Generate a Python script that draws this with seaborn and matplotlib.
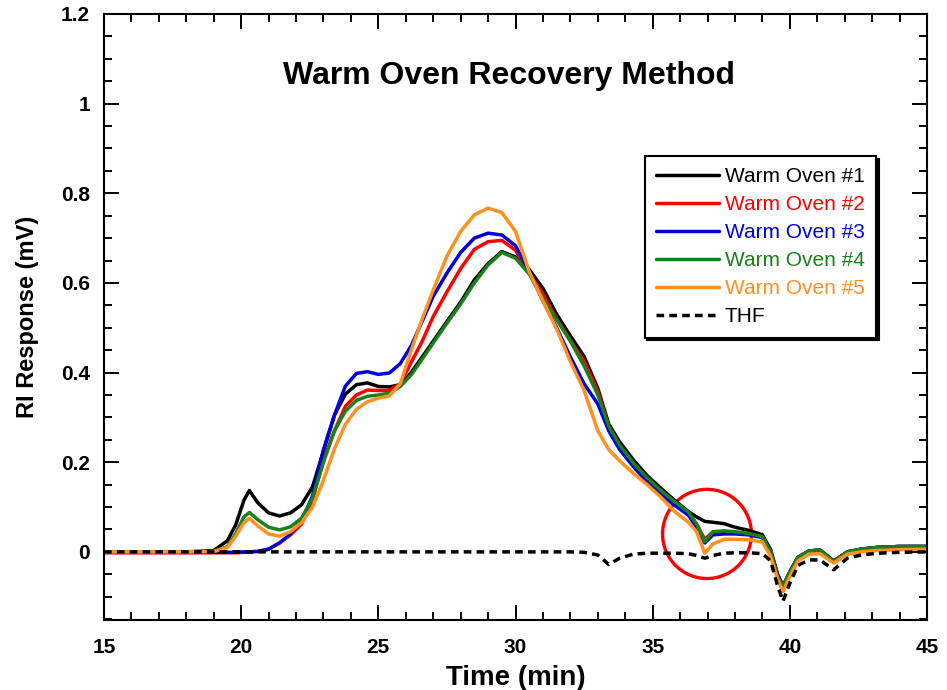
import numpy as np
import pandas as pd
import seaborn as sns
import matplotlib.pyplot as plt
from matplotlib.patches import Ellipse
from matplotlib.ticker import MultipleLocator, FormatStrFormatter

# retention time grid (min)
time_min = [15, 18, 19, 19.5, 19.8, 20.1, 20.3, 20.6, 21.0, 21.4, 21.8, 22.2, 22.6,
            23.0, 23.4, 23.8, 24.2, 24.6, 25.0, 25.4, 25.8, 26.2, 26.6, 27.0, 27.5,
            28.0, 28.5, 29.0, 29.5, 30.0, 30.5, 31.0, 31.5, 32.0, 32.5, 33.0, 33.4,
            33.8, 34.3, 34.8, 35.3, 35.8, 36.3, 36.6, 36.9, 37.2, 37.6, 38.0, 38.5,
            39.0, 39.3, 39.55, 39.75, 40.0, 40.3, 40.7, 41.1, 41.6, 42.1, 42.6, 43.2,
            44.0, 45.0]

oven1 = [0, 0, 0.003, 0.025, 0.06, 0.115, 0.137, 0.11, 0.087, 0.08, 0.087, 0.105, 0.145,
         0.225, 0.305, 0.352, 0.373, 0.377, 0.369, 0.368, 0.373, 0.40, 0.435, 0.47, 0.514,
         0.557, 0.607, 0.643, 0.67, 0.658, 0.63, 0.588, 0.53, 0.482, 0.436, 0.365, 0.285,
         0.245, 0.205, 0.17, 0.142, 0.115, 0.09, 0.078, 0.068, 0.066, 0.063, 0.055, 0.048,
         0.038, 0.005, -0.05, -0.077, -0.045, -0.012, 0.002, 0.004, -0.02, 0.0, 0.006, 0.01,
         0.012, 0.012]

oven2 = [-0.002, -0.002, -0.002, -0.002, -0.002, -0.001, 0, 0.001, 0.006, 0.02, 0.038, 0.062, 0.116,
         0.205, 0.27, 0.325, 0.35, 0.361, 0.36, 0.36, 0.375, 0.423, 0.47, 0.525, 0.58,
         0.632, 0.675, 0.692, 0.695, 0.673, 0.622, 0.575, 0.52, 0.472, 0.425, 0.358, 0.28,
         0.236, 0.197, 0.163, 0.135, 0.11, 0.088, 0.062, 0.028, 0.045, 0.045, 0.043, 0.04,
         0.033, 0.0, -0.05, -0.077, -0.045, -0.012, 0.002, 0.004, -0.022, 0.0, 0.006, 0.01,
         0.012, 0.012]

oven3 = [-0.001, -0.001, -0.001, -0.001, -0.001, 0, 0, 0.001, 0.006, 0.02, 0.04, 0.068, 0.125,
         0.228, 0.305, 0.37, 0.398, 0.402, 0.396, 0.399, 0.42, 0.46, 0.515, 0.57, 0.622,
         0.668, 0.70, 0.711, 0.707, 0.683, 0.625, 0.56, 0.50, 0.435, 0.375, 0.33, 0.27,
         0.228, 0.19, 0.156, 0.128, 0.104, 0.082, 0.055, 0.02, 0.038, 0.04, 0.04, 0.038,
         0.032, 0.0, -0.05, -0.077, -0.045, -0.012, 0.002, 0.004, -0.022, 0.0, 0.006, 0.01,
         0.012, 0.012]

oven4 = [0, 0, 0, 0.012, 0.04, 0.078, 0.088, 0.072, 0.055, 0.049, 0.056, 0.075, 0.12,
         0.20, 0.27, 0.314, 0.338, 0.347, 0.35, 0.354, 0.369, 0.395, 0.43, 0.466, 0.51,
         0.553, 0.60, 0.64, 0.668, 0.655, 0.62, 0.565, 0.518, 0.47, 0.415, 0.35, 0.28,
         0.238, 0.198, 0.165, 0.137, 0.112, 0.089, 0.062, 0.023, 0.045, 0.047, 0.045, 0.041,
         0.034, 0.0, -0.055, -0.077, -0.045, -0.012, 0.002, 0.004, -0.022, 0.0, 0.006, 0.01,
         0.012, 0.012]

oven5 = [0, 0, 0.001, 0.01, 0.035, 0.065, 0.075, 0.058, 0.04, 0.035, 0.045, 0.065, 0.10,
         0.16, 0.23, 0.285, 0.318, 0.335, 0.343, 0.348, 0.375, 0.45, 0.52, 0.584, 0.66,
         0.715, 0.752, 0.767, 0.757, 0.715, 0.625, 0.56, 0.497, 0.425, 0.36, 0.27, 0.228,
         0.203, 0.175, 0.15, 0.122, 0.09, 0.066, 0.045, -0.003, 0.018, 0.028, 0.028, 0.027,
         0.022, -0.01, -0.06, -0.089, -0.055, -0.02, -0.005, -0.004, -0.025, -0.005, 0.0, 0.003,
         0.005, 0.006]

thf = [0, 0, 0, 0, 0, 0, 0, 0, 0, 0, 0, 0, 0,
       0, 0, 0, 0, 0, 0, 0, 0, 0, 0, 0, 0,
       0, 0, 0, 0, 0, 0, 0, 0, 0, -0.001, -0.007, -0.028,
       -0.014, -0.005, -0.003, -0.003, -0.003, -0.004, -0.008, -0.014, -0.008, -0.003, -0.002, -0.002,
       -0.004, -0.02, -0.075, -0.11, -0.07, -0.03, -0.018, -0.018, -0.04, -0.014, -0.007, -0.003,
       -0.001, 0.0]

labels = ["Warm Oven #1", "Warm Oven #2", "Warm Oven #3", "Warm Oven #4", "Warm Oven #5", "THF"]
colors = ["#000000", "#FF0000", "#0000D8", "#1A801A", "#FF9022", "#000000"]
series = [oven1, oven2, oven3, oven4, oven5, thf]

sns.set_style("ticks")
plt.rcParams['font.family'] = ['Liberation Sans', 'DejaVu Sans']
plt.rcParams['text.color'] = 'black'
plt.rcParams['axes.labelcolor'] = 'black'
plt.rcParams['xtick.color'] = 'black'
plt.rcParams['ytick.color'] = 'black'

fig = plt.figure(figsize=(9.47, 6.9), dpi=100)
ax = fig.add_axes([104 / 947, 1 - 620 / 690, 823 / 947, 606 / 690])

for vals, lab, col in zip(series, labels, colors):
    df = pd.DataFrame({"time": time_min, "resp": vals})
    sns.lineplot(data=df, x="time", y="resp", color=col, lw=2.5, label=lab, ax=ax)
ax.lines[-1].set_dashes([2.2, 1.5])

ax.add_patch(Ellipse((36.98, 0.04), 3.24, 0.199, fill=False, edgecolor="#FF0000", lw=2.4))

ax.set_xlim(15, 45)
ax.set_ylim(-0.152, 1.2)
ax.xaxis.set_major_locator(MultipleLocator(5))
ax.xaxis.set_minor_locator(MultipleLocator(1))
ax.yaxis.set_major_locator(MultipleLocator(0.2))
ax.yaxis.set_minor_locator(MultipleLocator(0.05))
ax.yaxis.set_major_formatter(FormatStrFormatter('%g'))
ax.tick_params(which='both', direction='in', top=True, right=True, width=1.4, colors='black')
ax.tick_params(which='major', length=10.5, labelsize=15)
ax.tick_params(axis='x', which='major', pad=13)
ax.tick_params(axis='y', which='major', pad=10)
ax.tick_params(which='minor', length=5.5)
for lbl in ax.get_xticklabels() + ax.get_yticklabels():
    lbl.set_fontweight('bold')
for sp in ax.spines.values():
    sp.set_linewidth(1.5)
    sp.set_color('black')

ax.set_xlabel("Time (min)", fontsize=20, fontweight='bold', labelpad=6)
ax.set_ylabel("RI Response (mV)", fontsize=17, fontweight='bold', labelpad=16)
ax.text(29.76, 1.062, "Warm Oven Recovery Method", ha='center', va='center',
        fontsize=23, fontweight='bold')

leg = ax.legend(loc='upper left', bbox_to_anchor=(0.657, 0.766), fontsize=15,
                frameon=True, fancybox=False, framealpha=1, edgecolor='black',
                shadow={'facecolor': 'black', 'edgecolor': 'black', 'alpha': 1},
                labelcolor='linecolor', handlelength=3.0, handletextpad=0.3,
                labelspacing=0.43, borderpad=0.55, borderaxespad=0)
leg.get_frame().set_linewidth(1.5)

fig.savefig("out.png", dpi=100)
